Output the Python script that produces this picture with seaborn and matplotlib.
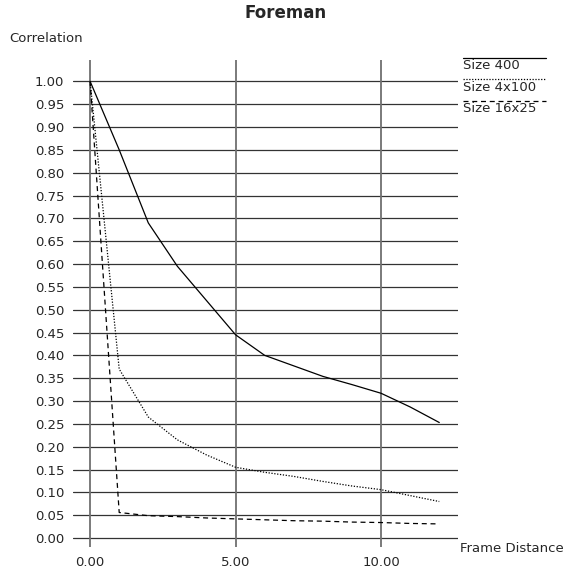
import numpy as np
import pandas as pd
import matplotlib
matplotlib.use("Agg")
import matplotlib.pyplot as plt
from matplotlib.lines import Line2D
import seaborn as sns

# Dữ liệu
frame_distance = [0, 1, 2, 3, 4, 5, 6, 7, 8, 9, 10, 11, 12]
size_400 = [1.00, 0.85, 0.69, 0.595, 0.52, 0.445, 0.40, 0.377, 0.354, 0.336, 0.317, 0.287, 0.253]
size_4x100 = [1.00, 0.37, 0.265, 0.215, 0.182, 0.155, 0.144, 0.135, 0.124, 0.114, 0.106, 0.093, 0.080]
size_16x25 = [1.00, 0.056, 0.049, 0.047, 0.044, 0.042, 0.040, 0.038, 0.037, 0.035, 0.034, 0.032, 0.031]
series_names = ["Size 400", "Size 4x100", "Size 16x25"]
y_ticks = [round(0.05 * i, 2) for i in range(21)]
x_ticks = [0, 5, 10]

df = pd.DataFrame({
    "Frame Distance": frame_distance * 3,
    "Correlation": size_400 + size_4x100 + size_16x25,
    "Series": np.repeat(series_names, len(frame_distance)),
})

sns.set_style("white")
plt.rcParams["font.family"] = ["DejaVu Sans"]

fig = plt.figure(figsize=(5.72, 5.70), dpi=100)
ax = fig.add_axes([0.127, 0.040, 0.673, 0.855])

# Lưới: đường ngang đậm, đường dọc xám
for y in y_ticks:
    ax.axhline(y, color="#333333", lw=0.9, zorder=1)
for x in x_ticks:
    ax.axvline(x, color="#707070", lw=1.3, zorder=1)

dash_styles = {"Size 400": "", "Size 4x100": (1, 1.3), "Size 16x25": (4, 3)}
sns.lineplot(data=df, x="Frame Distance", y="Correlation", hue="Series",
             style="Series", palette=["black"] * 3, dashes=dash_styles,
             linewidth=0.9, legend=False, ax=ax, zorder=3)

ax.set_xlim(-0.6, 12.63)
ax.set_ylim(-0.02, 1.047)
ax.set_xticks(x_ticks)
ax.set_xticklabels([f"{v:.2f}" for v in x_ticks])
ax.set_yticks(y_ticks)
ax.set_yticklabels([f"{v:.2f}" for v in y_ticks])
ax.tick_params(axis="both", length=0, labelsize=9.5, pad=6)
ax.set_xlabel("")
ax.set_ylabel("")
for s in ax.spines.values():
    s.set_visible(False)

fig.text(0.5, 0.978, "Foreman", ha="center", va="center", fontsize=12, fontweight="bold")
fig.text(0.016, 0.933, "Correlation", ha="left", va="center", fontsize=9.5)
fig.text(0.804, 0.038, "Frame Distance", ha="left", va="center", fontsize=9.5)

# Chú thích: đường kẻ phía trên chữ
legend_y = [0.899, 0.861, 0.823]
for name, ly in zip(series_names, legend_y):
    ls = "-" if dash_styles[name] == "" else (0, dash_styles[name])
    fig.add_artist(Line2D([0.809, 0.955], [ly, ly], color="black", lw=0.9, linestyle=ls))
    fig.text(0.809, ly - 0.014, name, ha="left", va="center", fontsize=9.5)

fig.savefig("out.png", dpi=100)
